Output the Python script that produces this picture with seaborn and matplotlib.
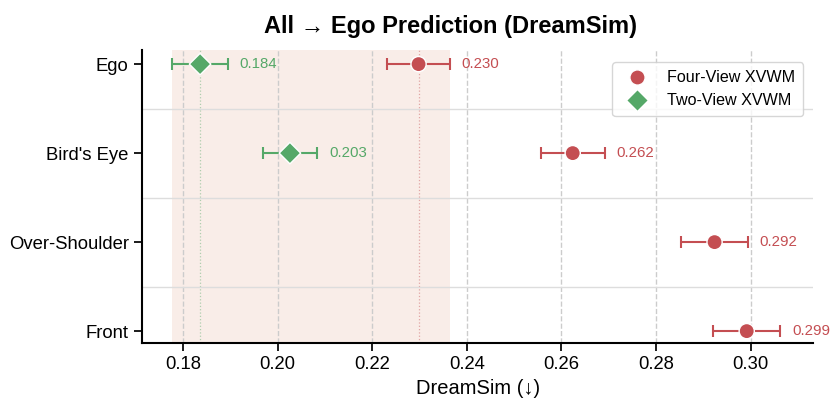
import numpy as np
import pandas as pd
import matplotlib
matplotlib.use("Agg")
import matplotlib.pyplot as plt
import seaborn as sns

categories = ["Ego", "Bird's Eye", "Over-Shoulder", "Front"]
four_view = [0.2298, 0.2624, 0.2924, 0.2992]
four_err = [0.0066, 0.0068, 0.0070, 0.0071]
two_cats = ["Ego", "Bird's Eye"]
two_view = [0.1836, 0.2026]
two_err = [0.0059, 0.0058]

red = "#c44e52"
green = "#55a868"

sns.set_theme(style="ticks")
plt.rcParams["font.family"] = ["Liberation Sans", "DejaVu Sans"]
plt.rcParams["text.color"] = "black"
plt.rcParams["xtick.color"] = "black"
plt.rcParams["ytick.color"] = "black"
plt.rcParams["axes.labelcolor"] = "black"

df = pd.DataFrame({
    "view": categories + two_cats,
    "score": four_view + two_view,
    "err": four_err + two_err,
    "model": ["Four-View XVWM"] * 4 + ["Two-View XVWM"] * 2,
})
df["y"] = df["view"].map({c: i for i, c in enumerate(categories)})

fig, ax = plt.subplots(figsize=(8.3, 3.99), dpi=100)

# shaded band covering the ego range
ax.axvspan(two_view[0] - two_err[0], four_view[0] + four_err[0],
           color="#f2d8cc", alpha=0.45, lw=0, zorder=0)
ax.axvline(two_view[0], color=green, ls=":", lw=0.9, alpha=0.45, zorder=1)
ax.axvline(four_view[0], color=red, ls=":", lw=0.9, alpha=0.45, zorder=1)

for k in [0.5, 1.5, 2.5]:
    ax.axhline(k, color="#dddddd", lw=1, zorder=1)

palette = {"Four-View XVWM": red, "Two-View XVWM": green}
for model, g in df.groupby("model"):
    ax.errorbar(g["score"], g["y"], xerr=g["err"], fmt="none",
                ecolor=palette[model], elinewidth=1.5, capsize=4, capthick=1.5, zorder=3)
    for _, r in g.iterrows():
        ax.text(r["score"] + r["err"] + 0.0025, r["y"], f"{r['score']:.3f}",
                color=palette[model], va="center", ha="left", fontsize=10.8)

sns.scatterplot(data=df, x="score", y="y", hue="model", style="model",
                markers={"Four-View XVWM": "o", "Two-View XVWM": "D"},
                palette=palette, s=120, edgecolor="white", linewidth=1,
                ax=ax, zorder=4)

ax.set_yticks(range(len(categories)))
ax.set_yticklabels(categories, fontsize=13.3)
ax.set_xlim(0.1713, 0.3133)
ax.set_ylim(3.135, -0.16)
ax.set_xticks([0.18, 0.20, 0.22, 0.24, 0.26, 0.28, 0.30])
ax.set_xticklabels([f"{v:.2f}" for v in ax.get_xticks()], fontsize=13.3)
ax.xaxis.grid(True, ls="--", color="#cccccc", lw=1)
ax.set_axisbelow(True)
ax.set_ylabel("")
ax.set_xlabel("DreamSim (↓)", fontsize=14.5, labelpad=4)
ax.set_title("All → Ego Prediction (DreamSim)", fontsize=17, fontweight="bold",
             pad=12, x=0.46)

for s in ["left", "bottom"]:
    ax.spines[s].set_linewidth(1.5)
    ax.spines[s].set_color("black")
sns.despine(ax=ax)

leg = ax.legend(loc="upper right", fontsize=11.6, frameon=True, title=None,
                borderpad=0.5, handletextpad=0.9, bbox_to_anchor=(0.997, 0.985))
leg.get_frame().set_edgecolor("#cccccc")

plt.subplots_adjust(left=0.171, right=0.98, top=0.875, bottom=0.14)
fig.savefig("out.png", dpi=100)
